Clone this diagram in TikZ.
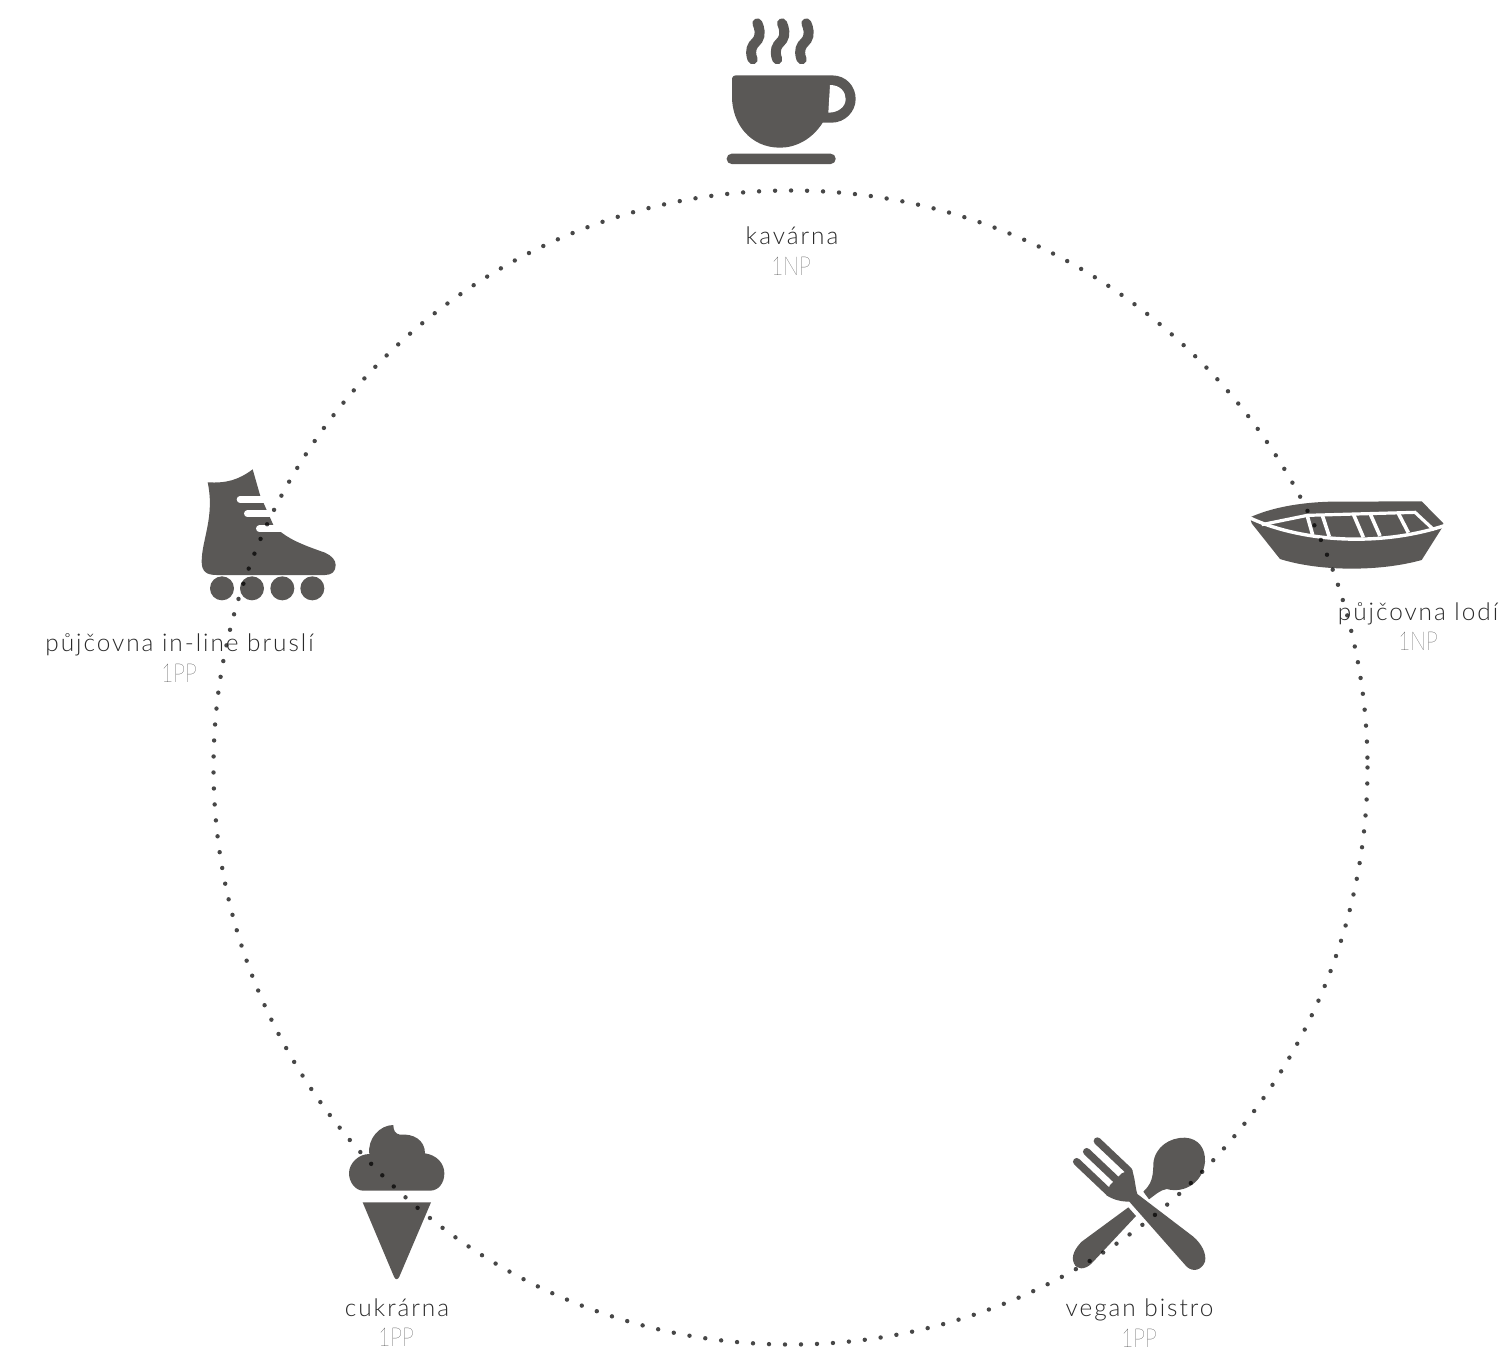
\documentclass[tikz,border=0pt]{standalone}
\usepackage{fontspec}
\setmainfont{Lato Light}[LetterSpace=8]
\newfontfamily\floorfont{Lato Hairline}[FakeStretch=.8]
\usepackage{xcolor,tikz}
\definecolor{ic}{HTML}{5A5856}
\definecolor{txt}{HTML}{2A2A2A}
\definecolor{flr}{HTML}{000000}
\tikzset{lab/.style={anchor=base,inner sep=0pt,text=txt,font=\fontsize{12.2}{14}\selectfont},
 floorlab/.style={anchor=base,inner sep=0pt,text=flr,font=\floorfont\fontsize{13}{15}\selectfont},
 zm/.style={x=.16667pt,y=-.16667pt},
 icon/.style={fill=ic,draw=none},
 cut/.style={draw=white,line cap=round},
 ringdots/.style={draw=black,draw opacity=.72,line width=2.2pt,line cap=round,dash pattern=on 0pt off 8pt}}
\begin{document}
\begin{tikzpicture}[x=.5pt,y=-.5pt]
\useasboundingbox (0,0) rectangle (1500,1350);
% cup
\begin{scope}[shift={(700,0)},zm]
\fill[icon] (96,240) .. controls (96,230) and (100,226) .. (110,226) -- (395,226)
 .. controls (440,226) and (467,260) .. (467,297) .. controls (467,335) and (435,368) .. (395,368) -- (368,368)
 .. controls (335,420) and (285,443) .. (240,443) .. controls (150,443) and (96,370) .. (96,290) -- cycle;
\fill[white] (390,255) .. controls (420,255) and (437,275) .. (437,297) .. controls (437,320) and (415,338) .. (385,338) -- cycle;
\fill[icon,rounded corners=2.5pt] (80,461) rectangle (407,492);
\foreach \dx in {0,74,147}
 \draw[ic,line width=5pt,line cap=round,shift={(\dx,0)}] plot[smooth,tension=.9] coordinates {(172,70) (178,108) (155,145) (158,178)};
\end{scope}
% boat
\begin{scope}[shift={(1230,480)},zm]
\fill[icon] (60,112) .. controls (120,85) and (200,68) .. (300,65) -- (575,64) -- (640,130) -- (635,145) -- (575,240)
 .. controls (450,275) and (270,275) .. (150,237) -- (65,130) -- cycle;
\draw[cut,line width=1.7pt,line cap=butt] (58,113) .. controls (200,180) and (430,205) .. (640,138);
\draw[cut,line width=1.6pt,line cap=butt,line join=miter] (95,134) -- (232,106) -- (555,97) -- (612,150);
\foreach \xa/\ya/\xb/\yb in {232/108/248/165,277/106/298/170,370/102/400/172,420/100/450/168,505/100/535/158}
 \draw[cut,line width=1.8pt,line cap=butt] (\xa,\ya) -- (\xb,\yb);
\end{scope}
% skate
\begin{scope}[shift={(30,460)},zm]
\fill[icon] (533,67) .. controls (590,70) and (625,60) .. (668,28) -- (690,105) -- (730,195) -- (755,218)
 .. controls (790,245) and (840,262) .. (885,278) .. controls (905,287) and (917,300) .. (917,315)
 .. controls (917,335) and (905,345) .. (885,345) -- (560,345) .. controls (530,345) and (515,335) .. (515,305)
 .. controls (515,240) and (555,170) .. (533,67) -- cycle;
\draw[cut,line width=3.3pt] (630,118) -- (700,118);
\draw[cut,line width=3.3pt] (652,161) -- (725,161);
\draw[cut,line width=3.3pt] (688,206) -- (760,206);
\foreach \cx in {576,666,757,847}
 \fill[icon] (\cx,385) circle (36);
\end{scope}
% cone
\begin{scope}[shift={(330,1110)},zm]
\fill[icon] (100,242) .. controls (75,242) and (57,215) .. (57,190) .. controls (57,160) and (85,132) .. (118,132)
 .. controls (112,85) and (150,45) .. (190,45) .. controls (190,60) and (195,72) .. (210,74)
 .. controls (250,70) and (285,90) .. (285,130) .. controls (320,135) and (343,160) .. (343,190)
 .. controls (343,220) and (325,242) .. (300,242) -- cycle;
\fill[icon] (98,277) -- (303,277) -- (208,500) .. controls (204,510) and (196,510) .. (192,500) -- cycle;
\end{scope}
% fork and spoon
\begin{scope}[shift={(1050,1120)},zm]
\foreach \xa/\ya/\xb/\yb in {80/125/175/215,110/95/205/185,142/63/237/153}
 \draw[ic,line width=3.7pt,line cap=round] (\xa,\ya) -- (\xb,\yb);
\fill[icon] (168,225) -- (180,195) -- (215,160) -- (245,148) .. controls (255,170) and (255,200) .. (262,222)
 -- (430,350) .. controls (455,372) and (470,400) .. (465,425) .. controls (455,450) and (430,458) .. (410,440)
 -- (238,245) .. controls (215,245) and (190,240) .. (168,225) -- cycle;
\fill[icon] (280,215) .. controls (300,195) and (310,180) .. (310,130) .. controls (315,80) and (360,52) .. (405,53)
 .. controls (445,55) and (467,85) .. (465,125) .. controls (460,185) and (405,222) .. (350,207)
 .. controls (330,210) and (315,225) .. (297,238) -- cycle;
\fill[icon] (235,262) -- (258,288) -- (125,430) .. controls (105,450) and (80,450) .. (72,430)
 .. controls (62,410) and (75,385) .. (95,365) -- cycle;
\end{scope}
\draw[ringdots] (790.5,767.5) circle (577);
\node[lab] (kav) at (792,244) {kavárna};
\node[floorlab] (kavf) at (791,275) {1NP};
\node[lab] (lod) at (1418,620) {půjčovna lodí};
\node[floorlab] (lodf) at (1418,650) {1NP};
\node[lab] (inl) at (179.5,651) {půjčovna in-line bruslí};
\node[floorlab] (inlf) at (179,682) {1PP};
\node[lab] (cuk) at (397,1316) {cukrárna};
\node[floorlab] (cukf) at (396,1346) {1PP};
\node[lab] (veg) at (1139.5,1316) {vegan bistro};
\node[floorlab] (vegf) at (1139,1347) {1PP};
\end{tikzpicture}
\end{document}
